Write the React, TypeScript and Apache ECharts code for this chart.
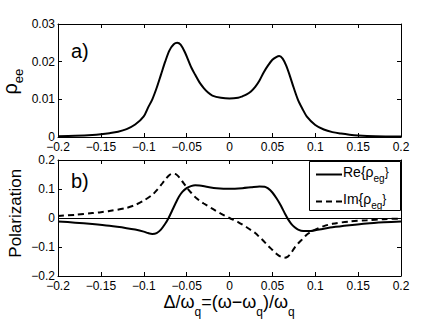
import { useEffect, useRef } from "react";
import * as echarts from "echarts";

// ---- data ----
const detuningA = [-0.2, -0.18, -0.16, -0.15, -0.14, -0.13, -0.12, -0.11, -0.1, -0.095, -0.09, -0.085, -0.08, -0.075, -0.07, -0.065, -0.061, -0.057, -0.052, -0.045, -0.04, -0.035, -0.03, -0.025, -0.02, -0.01, 0, 0.01, 0.015, 0.02, 0.025, 0.03, 0.035, 0.04, 0.045, 0.05, 0.055, 0.058, 0.062, 0.066, 0.07, 0.075, 0.08, 0.085, 0.09, 0.1, 0.11, 0.12, 0.13, 0.14, 0.15, 0.17, 0.2];
const rhoEE = [0.0002, 0.0003, 0.0005, 0.0007, 0.001, 0.0014, 0.0021, 0.0033, 0.0055, 0.0078, 0.01, 0.013, 0.0165, 0.02, 0.023, 0.0246, 0.025, 0.0245, 0.0225, 0.0187, 0.0165, 0.0145, 0.013, 0.0118, 0.011, 0.0104, 0.0102, 0.0104, 0.0108, 0.0113, 0.0121, 0.0133, 0.015, 0.0172, 0.019, 0.0205, 0.0213, 0.0215, 0.0208, 0.019, 0.0165, 0.013, 0.0098, 0.0075, 0.0055, 0.0032, 0.002, 0.0013, 0.0009, 0.0006, 0.0004, 0.0002, 0.0001];

const detuningRe = [-0.2, -0.18, -0.16, -0.14, -0.12, -0.11, -0.1, -0.095, -0.09, -0.085, -0.08, -0.075, -0.071, -0.067, -0.063, -0.059, -0.055, -0.05, -0.045, -0.04, -0.035, -0.025, -0.015, 0, 0.015, 0.025, 0.035, 0.041, 0.045, 0.05, 0.055, 0.06, 0.065, 0.068, 0.072, 0.076, 0.08, 0.086, 0.095, 0.1, 0.11, 0.12, 0.14, 0.16, 0.18, 0.2];
const reRhoEg = [-0.012, -0.016, -0.021, -0.027, -0.035, -0.04, -0.047, -0.052, -0.055, -0.052, -0.04, -0.02, 0, 0.025, 0.05, 0.073, 0.09, 0.103, 0.11, 0.113, 0.112, 0.107, 0.103, 0.101, 0.103, 0.106, 0.109, 0.108, 0.102, 0.088, 0.067, 0.042, 0.013, -0.003, -0.02, -0.032, -0.04, -0.045, -0.045, -0.042, -0.037, -0.032, -0.025, -0.019, -0.015, -0.012];

const detuningIm = [-0.2, -0.18, -0.16, -0.15, -0.14, -0.12, -0.11, -0.1, -0.09, -0.085, -0.08, -0.075, -0.07, -0.066, -0.062, -0.058, -0.054, -0.05, -0.045, -0.04, -0.035, -0.03, -0.02, -0.01, 0, 0.01, 0.02, 0.03, 0.035, 0.04, 0.045, 0.05, 0.055, 0.06, 0.064, 0.068, 0.072, 0.076, 0.08, 0.085, 0.09, 0.095, 0.1, 0.11, 0.12, 0.14, 0.16, 0.18, 0.2];
const imRhoEg = [0.007, 0.011, 0.017, 0.02, 0.024, 0.035, 0.045, 0.06, 0.08, 0.095, 0.113, 0.132, 0.148, 0.153, 0.15, 0.138, 0.122, 0.106, 0.088, 0.072, 0.06, 0.05, 0.032, 0.015, 0, -0.014, -0.032, -0.052, -0.066, -0.08, -0.096, -0.11, -0.124, -0.134, -0.137, -0.133, -0.12, -0.102, -0.088, -0.073, -0.058, -0.048, -0.04, -0.028, -0.02, -0.012, -0.008, -0.004, -0.002];

const xRange = { min: -0.2, max: 0.2, interval: 0.05 };
const yRangeA = { min: 0, max: 0.03, interval: 0.01 };
const yRangeB = { min: -0.2, max: 0.2, interval: 0.1 };
const panelLabels = ["a)", "b)"];
const legendNames = ["Re", "Im"];

const FONT = "'Liberation Sans', Arial, Helvetica, sans-serif";

const zip = (xs: number[], ys: number[]) => xs.map((x, i) => [x, ys[i]]);
const fmt = (v: number) => String(Math.round(v * 10000) / 10000).replace("-", "\u2212");

const G0 = { left: 58, top: 24, width: 343, height: 113 };
const G1 = { left: 58, top: 160, width: 343, height: 116 };

function axisX(gridIndex: number, pos: "top" | "bottom", labels: boolean, margin = 4) {
  return {
    type: "value",
    gridIndex,
    position: pos,
    ...xRange,
    axisLine: { show: true, onZero: false, lineStyle: { color: "#000", width: 1 } },
    axisTick: { show: true, inside: true, length: 4, lineStyle: { color: "#000", width: 1 } },
    axisLabel: { show: labels, color: "#000", fontSize: 12, fontFamily: FONT, margin, formatter: fmt },
    splitLine: { show: false },
  };
}
function axisY(gridIndex: number, pos: "left" | "right", labels: boolean, r: any) {
  return {
    type: "value",
    gridIndex,
    position: pos,
    ...r,
    axisLine: { show: true, onZero: false, lineStyle: { color: "#000", width: 1 } },
    axisTick: { show: true, inside: true, length: 4, lineStyle: { color: "#000", width: 1 } },
    axisLabel: { show: labels, color: "#000", fontSize: 12, fontFamily: FONT, margin: 3, formatter: fmt },
    splitLine: { show: false },
  };
}

export default function App() {
  const ref = useRef<HTMLDivElement>(null);
  useEffect(() => {
    if (!ref.current) return;
    const chart = echarts.init(ref.current, undefined, { renderer: "svg" });
    const subStyle = (fs: number, pad: number) => ({ fontSize: fs, fontFamily: FONT, fill: "#000", color: "#000", verticalAlign: "top", lineHeight: fs, padding: [pad, 0, 0, 0] });
    const mainStyle = (fs: number) => ({ fontSize: fs, fontFamily: FONT, fill: "#000", color: "#000", verticalAlign: "top", lineHeight: fs });
    chart.setOption({
      animation: false,
      backgroundColor: "#fff",
      grid: [
        { ...G0, containLabel: false },
        { ...G1, containLabel: false },
      ],
      xAxis: [axisX(0, "bottom", true, 4), axisX(0, "top", false), axisX(1, "bottom", true, 4), axisX(1, "top", false)],
      yAxis: [axisY(0, "left", true, yRangeA), axisY(0, "right", false, yRangeA), axisY(1, "left", true, yRangeB), axisY(1, "right", false, yRangeB)],
      series: [
        {
          type: "line",
          xAxisIndex: 0,
          yAxisIndex: 0,
          data: zip(detuningA, rhoEE),
          showSymbol: false,
          smooth: 0.3,
          lineStyle: { color: "#000", width: 2 },
        },
        {
          type: "line",
          name: "Re",
          xAxisIndex: 2,
          yAxisIndex: 2,
          data: zip(detuningRe, reRhoEg),
          showSymbol: false,
          smooth: 0.3,
          lineStyle: { color: "#000", width: 2 },
          markLine: {
            silent: true,
            symbol: ["none", "none"],
            label: { show: false },
            lineStyle: { color: "#000", width: 1, type: "solid" },
            data: [{ yAxis: 0 }],
          },
        },
        {
          type: "line",
          name: "Im",
          xAxisIndex: 2,
          yAxisIndex: 2,
          data: zip(detuningIm, imRhoEg),
          showSymbol: false,
          smooth: 0.3,
          lineStyle: { color: "#000", width: 2, type: [6, 4] },
        },
      ],
      graphic: [
        { type: "text", x: 71, y: 50.7, z: 10, style: { text: panelLabels[0], fontSize: 20, fontFamily: FONT, fill: "#000", align: "left", verticalAlign: "middle", textAlign: "left", textVerticalAlign: "middle" } },
        { type: "text", x: 71, y: 180.7, z: 10, style: { text: panelLabels[1], fontSize: 20, fontFamily: FONT, fill: "#000", align: "left", verticalAlign: "middle", textAlign: "left", textVerticalAlign: "middle" } },
        {
          type: "text", x: 10, y: 81.7, rotation: Math.PI / 2, z: 10,
          style: {
            text: "{m|ρ}{s|ee}", align: "center", verticalAlign: "middle", textAlign: "center", textVerticalAlign: "middle",
            rich: { m: mainStyle(20), s: subStyle(13, 12) },
          },
        },
        {
          type: "text", x: 15.7, y: 213.3, rotation: Math.PI / 2, z: 10,
          style: { text: "Polarization", fontSize: 17, fontFamily: FONT, fill: "#000", align: "center", verticalAlign: "middle", textAlign: "center", textVerticalAlign: "middle" },
        },
        {
          type: "text", x: 229, y: 293, z: 10,
          style: {
            text: "{m|Δ/ω}{s|q}{m|=(ω−ω}{s|q}{m|)/ω}{s|q}", align: "center", verticalAlign: "top", textAlign: "center", textVerticalAlign: "top",
            rich: { m: mainStyle(18), s: subStyle(12, 13) },
          },
        },
        // legend box
        { type: "rect", z: 10, shape: { x: 309.5, y: 161.5, width: 91, height: 49 }, style: { fill: "#fff", stroke: "#000", lineWidth: 1 } },
        { type: "line", z: 11, shape: { x1: 316, y1: 174.5, x2: 342, y2: 174.5 }, style: { stroke: "#000", lineWidth: 2 } },
        { type: "line", z: 11, shape: { x1: 316, y1: 201.5, x2: 342, y2: 201.5 }, style: { stroke: "#000", lineWidth: 2, lineDash: [6, 4] } },
        {
          type: "text", x: 343, y: 165, z: 11,
          style: { text: `{m|${legendNames[0]}\{ρ}{s|eg}{m|\}}`, align: "left", verticalAlign: "top", textAlign: "left", textVerticalAlign: "top", rich: { m: mainStyle(14), s: subStyle(10, 8) } },
        },
        {
          type: "text", x: 343, y: 192, z: 11,
          style: { text: `{m|${legendNames[1]}\{ρ}{s|eg}{m|\}}`, align: "left", verticalAlign: "top", textAlign: "left", textVerticalAlign: "top", rich: { m: mainStyle(14), s: subStyle(10, 8) } },
        },
      ],
    });
    return () => chart.dispose();
  }, []);
  return <div ref={ref} style={{ position: "absolute", left: 0, top: 0, width: 443, height: 333 }} />;
}
